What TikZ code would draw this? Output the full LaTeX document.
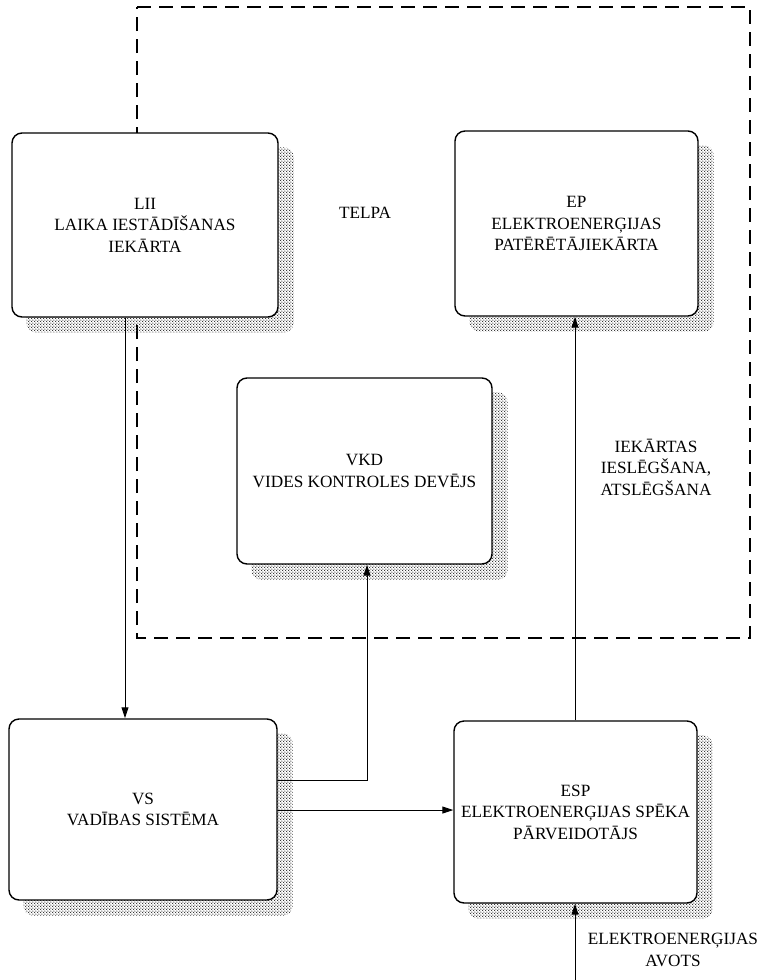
\documentclass[tikz,border=0pt]{standalone}
\usepackage{fontspec}
\setmainfont{Liberation Serif}
\usetikzlibrary{arrows.meta,patterns}
% halftone-like dot screen used for the drop shadows
\pgfdeclarepatternformonly{shadowdots}{\pgfpointorigin}{\pgfpoint{3.2pt}{3.2pt}}{\pgfpoint{3.2pt}{3.2pt}}{%
  \pgfpathcircle{\pgfpoint{0.8pt}{0.8pt}}{0.75pt}%
  \pgfpathcircle{\pgfpoint{2.4pt}{2.4pt}}{0.75pt}%
  \pgfusepath{fill}}
\begin{document}
\begin{tikzpicture}[x=1pt,y=-1pt,
  block/.style={draw,line width=1.4pt,rounded corners=10pt,fill=white,
    align=center,inner sep=0pt,font=\fontsize{17.2}{21.5}\selectfont},
  shade/.style={pattern=shadowdots,pattern color=black!85,rounded corners=10pt},
  lbl/.style={align=center,inner sep=0pt,font=\fontsize{17.2}{21.5}\selectfont},
  flow/.style={line width=1pt,-{Triangle[length=11pt,width=7pt]}},
  frame/.style={line width=1.4pt,dash pattern=on 14pt off 8pt}]
\useasboundingbox (0,0) rectangle (760,980);
% room boundary
\draw[frame] (137,7) -- (750,7) -- (750,638) -- (137,638) -- cycle;
% box positions (named, invisible) used for shadows and connectors
\path
  (145,225)     node[block,draw=none,fill=none,minimum width=266pt,minimum height=184pt] (lii) {}
  (576.5,223.5) node[block,draw=none,fill=none,minimum width=243pt,minimum height=185pt] (ep) {}
  (364.5,471)   node[block,draw=none,fill=none,minimum width=255pt,minimum height=186pt] (vkd) {}
  (143,809.5)   node[block,draw=none,fill=none,minimum width=268pt,minimum height=181pt] (vs) {}
  (575.5,812)   node[block,draw=none,fill=none,minimum width=243pt,minimum height=182pt] (esp) {};
% shadows
\foreach \b in {lii,ep,vkd,vs,esp}{
  \path[shade] ([shift={(15,15)}]\b.north west) rectangle ([shift={(15,15)}]\b.south east);
}
% boxes on top of shadows
\node[block,minimum width=266pt,minimum height=184pt] (liibox) at (lii) {LII\\LAIKA IESTĀDĪŠANAS\\IEKĀRTA};
\node[block,minimum width=243pt,minimum height=185pt] (epbox) at (ep) {EP\\ELEKTROENERĢIJAS\\PATĒRĒTĀJIEKĀRTA};
\node[block,minimum width=255pt,minimum height=186pt] (vkdbox) at (vkd) {VKD\\VIDES KONTROLES DEVĒJS};
\node[block,minimum width=268pt,minimum height=181pt] (vsbox) at (vs) {VS\\VADĪBAS SISTĒMA};
\node[block,minimum width=243pt,minimum height=182pt] (espbox) at (esp) {ESP\\ELEKTROENERĢIJAS SPĒKA\\PĀRVEIDOTĀJS};
% labels
\node[lbl] (telpa) at (365,213) {TELPA};
\node[lbl] (sw) at (656,467) {IEKĀRTAS\\IESLĒGŠANA,\\ATSLĒGŠANA};
\node[lbl] (src) at (673,950) {ELEKTROENERĢIJAS\\AVOTS};
\coordinate (srcend) at (575,980);
% connectors
\draw[flow] (liibox.south -| 125,0) -- (vsbox.north -| 125,0);
\draw[flow] (vsbox.east |- 0,780) -| (vkdbox.south -| 367,0);
\draw[flow] (vsbox.east |- 0,810) -- (espbox.west |- 0,810);
\draw[flow] (espbox.north -| 575,0) -- (epbox.south -| 575,0);
\draw[flow] (srcend) -- (espbox.south -| 575,0);
\end{tikzpicture}
\end{document}
